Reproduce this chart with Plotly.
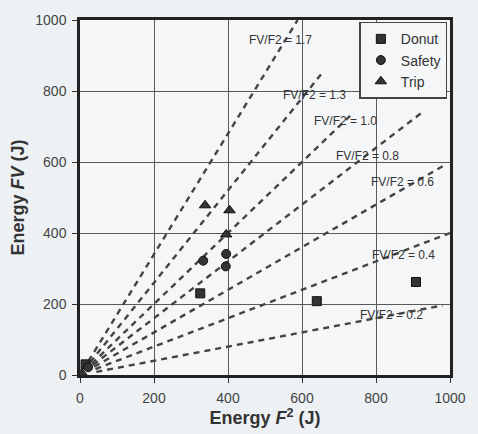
import plotly.graph_objects as go
import numpy as np

# Data
donut_x = [15, 325, 640, 908]
donut_y = [30, 230, 208, 262]
safety_x = [22, 333, 395, 394]
safety_y = [22, 322, 341, 306]
trip_x = [5, 338, 404, 395]
trip_y = [5, 478, 464, 396]

ratios = [1.7, 1.3, 1.0, 0.8, 0.6, 0.4, 0.2]
ratio_end_x = [588, 660, 740, 925, 980, 1000, 980]
ratio_labels = ["FV/F2 = 1.7", "FV/F2 = 1.3", "FV/F2 = 1.0", "FV/F2 = 0.8",
                "FV/F2 = 0.6", "FV/F2 = 0.4", "FV/F2 = 0.2"]
label_x = [541, 635, 717, 776, 872, 874, 843]
label_y = [943, 788, 716, 618, 543, 337, 170]

x_ticks = [0, 200, 400, 600, 800, 1000]
y_ticks = [0, 200, 400, 600, 800, 1000]

FONT = "Liberation Sans, Arial, sans-serif"
DARK = "#333333"

fig = go.Figure()

start_r = 45
for k, xe in zip(ratios, ratio_end_x):
    x0 = start_r / np.sqrt(1 + k * k)
    fig.add_trace(go.Scatter(
        x=[x0, xe], y=[k * x0, k * xe], mode="lines",
        line=dict(color="#444444", width=2.4, dash="6px,5px"),
        showlegend=False, hoverinfo="skip"))

fig.add_trace(go.Scatter(x=donut_x, y=donut_y, mode="markers", name="Donut",
                         marker=dict(symbol="square", size=9, color=DARK,
                                     line=dict(color="#111", width=1))))
fig.add_trace(go.Scatter(x=safety_x, y=safety_y, mode="markers", name="Safety",
                         marker=dict(symbol="circle", size=9, color=DARK,
                                     line=dict(color="#111", width=1))))
fig.add_trace(go.Scatter(x=trip_x, y=trip_y, mode="markers", name="Trip",
                         marker=dict(symbol="triangle-up", size=10, color=DARK,
                                     line=dict(color="#111", width=1))))

for t, lx, ly in zip(ratio_labels, label_x, label_y):
    fig.add_annotation(x=lx, y=ly, text=t, showarrow=False,
                       font=dict(family=FONT, size=12, color="#333"))

axis_common = dict(
    range=[0, 1000], showgrid=True, gridcolor="#5a5a5a", gridwidth=1,
    showline=True, linecolor="#222", linewidth=2.5, mirror=True,
    ticks="outside", ticklen=5, tickcolor="#333", zeroline=False,
    ticklabelstandoff=3,
    tickfont=dict(family=FONT, size=14, color="#444"),
)

fig.update_xaxes(tickvals=x_ticks, **axis_common,
                 title=dict(text="<b>Energy <i>F</i><sup>2</sup> (J)</b>",
                            font=dict(family=FONT, size=18, color="#333"), standoff=2))
fig.update_yaxes(tickvals=y_ticks, **axis_common,
                 title=dict(text="<b>Energy <i>FV</i> (J)</b>",
                            font=dict(family=FONT, size=18, color="#333"), standoff=6))

fig.update_layout(
    width=478, height=434,
    margin=dict(l=80, r=23, t=16, b=59),
    paper_bgcolor="#edf1f4", plot_bgcolor="#f4f6f8",
    legend=dict(x=0.755, y=0.995, xanchor="left", yanchor="top",
                bgcolor="#f4f6f8", bordercolor="#444", borderwidth=1.5,
                font=dict(family=FONT, size=14, color="#333"),
                itemwidth=30, tracegroupgap=0),
    font=dict(family=FONT),
)

fig.write_html("out.html", config={"displayModeBar": False},
               post_script="document.body.style.margin='0';document.body.style.padding='0';")
